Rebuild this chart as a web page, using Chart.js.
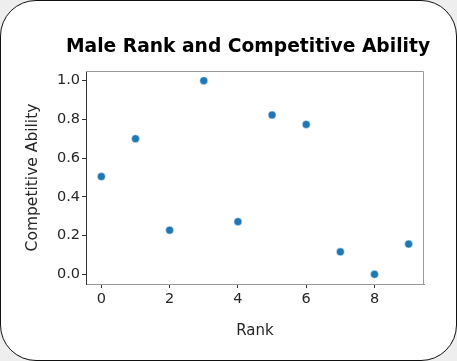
<!DOCTYPE html>
<html>
<head>
<meta charset="utf-8">
<script src="https://cdn.jsdelivr.net/npm/chart.js@4"></script>
<style>
  html, body { margin: 0; padding: 0; background: #eeeeee; }
  #wrap { position: relative; width: 457px; height: 361px; overflow: hidden; }
  #card { position: absolute; left: 0; top: 0; width: 457px; height: 361px; box-sizing: border-box;
          border: 1.5px solid #111; border-radius: 36px; background: #fff; }
  #c { position: absolute; left: 0; top: 0; }
</style>
</head>
<body>
<div id="wrap">
  <div id="card"></div>
  <canvas id="c" width="457" height="361"></canvas>
</div>
<script>
// data
var ranks = [0, 1, 2, 3, 4, 5, 6, 7, 8, 9];
var ability = [0.505, 0.70, 0.228, 1.0, 0.272, 0.823, 0.774, 0.116, 0.0, 0.156];
var xTicks = [0, 2, 4, 6, 8];
var yTicks = [0.0, 0.2, 0.4, 0.6, 0.8, 1.0];

var titleText = 'Male Rank and Competitive Ability';

var pts = ranks.map(function(r, i){ return {x: r, y: ability[i]}; });

// frame + title
var framePlugin = {
  id: 'frame',
  afterDatasetsDraw: function(chart){
    var a = chart.chartArea, ctx = chart.ctx;
    ctx.save();
    ctx.lineWidth = 1;
    ctx.strokeStyle = '#999';
    ctx.beginPath();
    ctx.moveTo(a.left, a.top + 0.5);
    ctx.lineTo(a.right - 0.5, a.top + 0.5);
    ctx.lineTo(a.right - 0.5, a.bottom);
    ctx.stroke();
    ctx.restore();
  },
  afterDraw: function(chart){
    var ctx = chart.ctx;
    ctx.save();
    ctx.fillStyle = '#000';
    ctx.font = 'bold 18.7px "DejaVu Sans"';
    ctx.textAlign = 'center';
    ctx.textBaseline = 'alphabetic';
    ctx.fillText(titleText, 248, 52);
    ctx.restore();
  }
};

new Chart(document.getElementById('c'), {
  type: 'scatter',
  data: {
    datasets: [{
      data: pts,
      backgroundColor: '#1f77b4',
      borderColor: '#ffffff',
      borderWidth: 0.5,
      pointRadius: 4,
      pointHoverRadius: 4
    }]
  },
  options: {
    responsive: false,
    animation: false,
    events: [],
    layout: { padding: { top: 71, right: 33, left: 0, bottom: 0 } },
    plugins: { legend: { display: false }, tooltip: { enabled: false } },
    scales: {
      x: {
        type: 'linear',
        min: -0.45, max: 9.45,
        afterFit: function(s){ s.height = 77; },
        afterBuildTicks: function(s){ s.ticks = xTicks.map(function(v){ return {value: v}; }); },
        grid: { display: true, drawOnChartArea: false, drawTicks: true, tickLength: 4, tickColor: '#333' },
        border: { display: true, color: '#999', width: 1 },
        ticks: { color: '#262626', padding: 3, font: { family: 'DejaVu Sans', size: 14.5 }, maxRotation: 0,
                 callback: function(v){ return String(v); } },
        title: { display: true, text: 'Rank', color: '#262626', font: { family: 'DejaVu Sans', size: 15 },
                 padding: { top: 0, bottom: 21 } }
      },
      y: {
        type: 'linear',
        min: -0.05, max: 1.05,
        afterFit: function(s){ s.width = 86; },
        afterBuildTicks: function(s){ s.ticks = yTicks.map(function(v){ return {value: v}; }); },
        grid: { display: true, drawOnChartArea: false, drawTicks: true, tickLength: 4, tickColor: '#333' },
        border: { display: true, color: '#333', width: 1 },
        ticks: { color: '#262626', padding: 2, font: { family: 'DejaVu Sans', size: 14.5 },
                 callback: function(v){ return v.toFixed(1); } },
        title: { display: true, text: 'Competitive Ability', color: '#262626', font: { family: 'DejaVu Sans', size: 15.5 },
                 padding: { top: 24, bottom: 0 } }
      }
    }
  },
  plugins: [framePlugin]
});
</script>
</body>
</html>
